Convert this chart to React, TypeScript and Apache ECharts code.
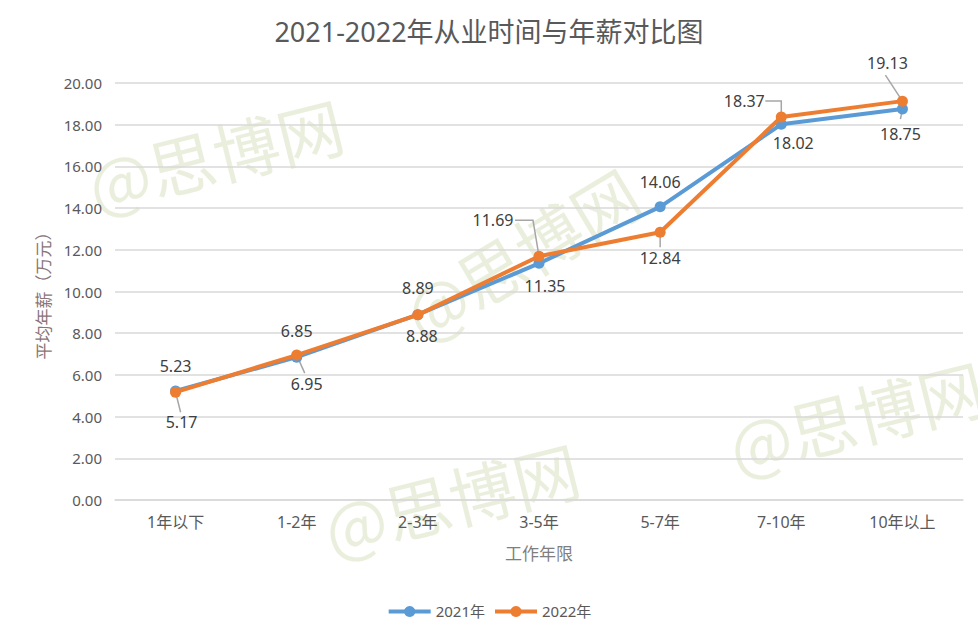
import { useEffect, useRef } from "react";
import * as echarts from "echarts";

const titleText = "2021-2022年从业时间与年薪对比图";
const categories = ["1年以下", "1-2年", "2-3年", "3-5年", "5-7年", "7-10年", "10年以上"];
const seriesNames = ["2021年", "2022年"];
const salary2021 = [5.23, 6.85, 8.89, 11.35, 14.06, 18.02, 18.75];
const salary2022 = [5.17, 6.95, 8.88, 11.69, 12.84, 18.37, 19.13];
const yAxisName = "平均年薪（万元）";
const xAxisName = "工作年限";
const watermarkText = "@思博网";

// label styling: offsets of each label from its point, and leader-line vertices (relative to the point)
const offsets2021 = [[0, -25], [0, -26], [0, -27], [6, 23], [0, -25], [12, 19], [-2, 25]];
const leaders2021: (number[][] | null)[] = [null, null, null, null, null, null, [[-2, 10]]];
const offsets2022 = [[6, 30], [10, 29], [4, 21], [-46, -36], [0, 26], [-37, -16], [-15, -38]];
const leaders2022: (number[][] | null)[] = [
  [[5, 20]],
  [[8, 18]],
  null,
  [[-6, -36], [-24, -36]],
  [[0, 15]],
  [[0, -16], [-16, -16]],
  [[-17, -26]],
];

const FONT = "'Noto Sans', 'Noto Sans CJK SC', sans-serif";
const BLUE = "#5b9bd5";
const ORANGE = "#ed7d31";
const LEADER = "#a6a6a6";

function buildData(values: number[], offsets: number[][]) {
  return values.map((v, i) => ({ value: v, label: { offset: offsets[i] } }));
}

function leaderSeries(values: number[], leaders: (number[][] | null)[]) {
  return {
    type: "custom",
    name: "leader",
    z: 1,
    silent: true,
    data: values.map((v, i) => [i, v]),
    encode: { x: 0, y: 1 },
    renderItem: (params: any, api: any) => {
      const cfg = leaders[params.dataIndex];
      if (!cfg) return { type: "group", children: [] };
      const pt = api.coord([api.value(0), api.value(1)]);
      const points = [pt, ...cfg.map((d) => [pt[0] + d[0], pt[1] + d[1]])];
      return {
        type: "polyline",
        shape: { points },
        style: { stroke: LEADER, lineWidth: 1.5, fill: null },
      };
    },
  };
}

export default function App() {
  const ref = useRef<HTMLDivElement>(null);
  useEffect(() => {
    if (!ref.current) return;
    const chart = echarts.init(ref.current, null, { renderer: "svg" });
    const wm = (x: number, y: number, deg: number) => ({
      type: "text",
      x,
      y,
      rotation: (deg * Math.PI) / 180,
      z: -10,
      silent: true,
      style: {
        text: watermarkText,
        fontSize: 66,
        fontFamily: "'Noto Sans CJK SC', sans-serif",
        fill: "rgba(190,205,150,0.32)",
        textAlign: "center",
        textVerticalAlign: "middle",
      },
    });
    const labelCfg = {
      show: true,
      position: "inside",
      color: "#404040",
      fontSize: 16,
      fontFamily: FONT,
      formatter: (p: any) => Number(p.value).toFixed(2),
    };
    chart.setOption({
      animation: false,
      backgroundColor: "#ffffff",
      textStyle: { fontFamily: FONT },
      title: {
        text: titleText,
        left: "center",
        top: 13,
        textStyle: { fontSize: 27, color: "#595959", fontWeight: "normal", fontFamily: FONT },
      },
      graphic: [wm(215, 153, 14), wm(520, 252, 31), wm(451, 497, 14), wm(856, 415, 14)],
      legend: {
        data: seriesNames,
        bottom: 12,
        left: "center",
        itemWidth: 42,
        itemHeight: 14,
        itemGap: 8,
        lineStyle: { width: 4 },
        textStyle: { color: "#595959", fontSize: 15, fontFamily: FONT },
      },
      grid: { left: 115, right: 15, top: 83, bottom: 136 },
      xAxis: {
        type: "category",
        data: categories,
        boundaryGap: true,
        name: xAxisName,
        nameLocation: "middle",
        nameGap: 45,
        nameTextStyle: { color: "#7f7f7f", fontSize: 17, fontFamily: FONT },
        axisLine: { show: true, lineStyle: { color: "#d9d9d9", width: 1.5 } },
        axisTick: { show: false },
        axisLabel: { color: "#595959", fontSize: 16, margin: 14, fontFamily: FONT },
      },
      yAxis: {
        type: "value",
        min: 0,
        max: 20,
        interval: 2,
        name: yAxisName,
        nameLocation: "middle",
        nameGap: 63,
        nameRotate: 90,
        nameTextStyle: { color: "#8a7577", fontSize: 17, fontFamily: FONT },
        axisLine: { show: false },
        axisTick: { show: false },
        splitLine: { lineStyle: { color: "#d9d9d9", width: 1.5 } },
        axisLabel: {
          color: "#595959",
          fontSize: 15,
          margin: 13,
          fontFamily: FONT,
          formatter: (v: number) => v.toFixed(2),
        },
      },
      series: [
        leaderSeries(salary2021, leaders2021),
        leaderSeries(salary2022, leaders2022),
        {
          name: seriesNames[0],
          type: "line",
          z: 2,
          data: buildData(salary2021, offsets2021),
          symbol: "circle",
          symbolSize: 11,
          lineStyle: { color: BLUE, width: 4 },
          itemStyle: { color: BLUE },
          label: labelCfg,
        },
        {
          name: seriesNames[1],
          type: "line",
          z: 3,
          data: buildData(salary2022, offsets2022),
          symbol: "circle",
          symbolSize: 11,
          lineStyle: { color: ORANGE, width: 4 },
          itemStyle: { color: ORANGE },
          label: labelCfg,
        },
      ],
    });
    return () => chart.dispose();
  }, []);
  return <div ref={ref} style={{ width: 978, height: 636, position: "absolute", left: 0, top: 0 }} />;
}
